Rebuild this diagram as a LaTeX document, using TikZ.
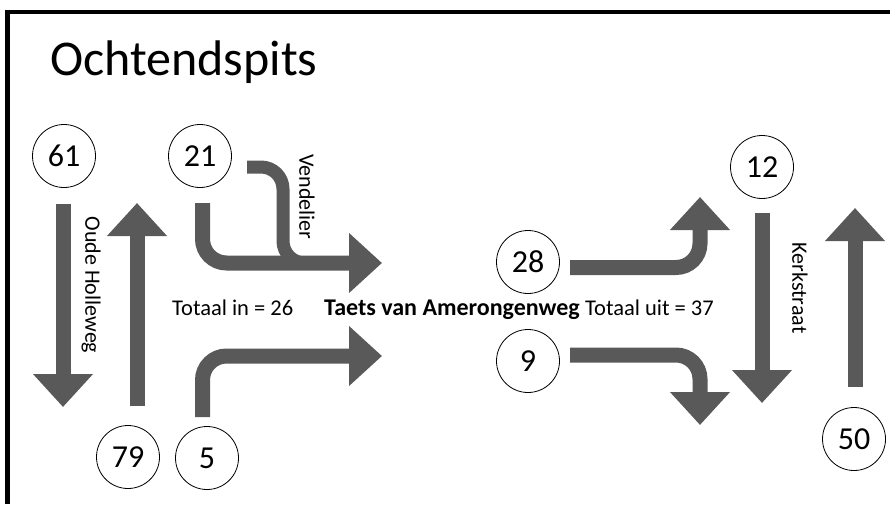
\documentclass[tikz,border=0pt]{standalone}
\usepackage{fontspec}
\setmainfont{Carlito}
\usetikzlibrary{arrows.meta,positioning}
\definecolor{flowgrey}{HTML}{595959}
\tikzset{
  count/.style={draw, circle, line width=0.8pt, fill=white, minimum size=63pt, inner sep=0pt, font=\fontsize{32}{38}\selectfont},
  flow/.style={draw=flowgrey, line width=15pt, -{Triangle[width=58pt,length=33pt]}},
  bendflow/.style={flow, rounded corners=24pt},
  feeder/.style={draw=flowgrey, line width=13pt, rounded corners=22pt},
  street/.style={rotate=-90, inner sep=0pt, font=\fontsize{22}{26}\selectfont},
  total/.style={anchor=base west, inner sep=0pt, font=\fontsize{22.5}{27}\selectfont}
}

\begin{document}
\begin{tikzpicture}[x=1pt, y=-1pt]
  \useasboundingbox (0,0) rectangle (890,504);
  \draw[line width=4.5pt] (7.5,504) |- (890,12);
  \node[anchor=base west, inner sep=0pt, font=\fontsize{50}{60}\selectfont] (title) at (50,75) {Ochtendspits};

  % tellingen
  \node[count] (n61) at (64,156) {61};
  \node[count] (n21) at (200,156) {21};
  \node[count] (n79) at (128,457) {79};
  \node[count] (n5) at (207,458) {5};
  \node[count] (n28) at (528,262) {28};
  \node[count] (n9) at (528,361) {9};
  \node[count] (n12) at (762,167) {12};
  \node[count] (n50) at (854,439) {50};

  % begin- en eindpunten van de stromen
  \coordinate (ohDownA) at (63,204);
  \coordinate (ohDownB) at (63,407);
  \coordinate (ohUpA) at (137,406);
  \coordinate (ohUpB) at (137,203);
  \coordinate (vdA) at (247,167);
  \coordinate (vdB) at (322,263);
  \coordinate (inTopA) at (202.5,203);
  \coordinate (inTopB) at (382,263);
  \coordinate (inLowA) at (202.5,417);
  \coordinate (inLowB) at (382,356);
  \coordinate (outTopA) at (570,267.5);
  \coordinate (outTopB) at (700,197);
  \coordinate (outLowA) at (570,355);
  \coordinate (outLowB) at (700,425);
  \coordinate (ksDownA) at (762,213);
  \coordinate (ksDownB) at (762,403);
  \coordinate (ksUpA) at (855,387);
  \coordinate (ksUpB) at (855,208);

  \draw[feeder] (vdA) -| (283,263) -- (vdB);
  \draw[flow] (ohDownA) -- (ohDownB);
  \draw[flow] (ohUpA) -- (ohUpB);
  \draw[bendflow] (inTopA) |- (inTopB);
  \draw[bendflow] (inLowA) |- (inLowB);
  \draw[bendflow] (outTopA) -| (outTopB);
  \draw[bendflow] (outLowA) -| (outLowB);
  \draw[flow] (ksDownA) -- (ksDownB);
  \draw[flow] (ksUpA) -- (ksUpB);

  % straatnamen en totalen
  \node[street] (oude) at (91,285) {Oude Holleweg};
  \node[street] (vendel) at (307,197) {Vendelier};
  \node[street] (kerk) at (800,288) {Kerkstraat};
  \node[total] (totin) at (172,315) {Totaal in = 26};
  \node[total, font=\fontsize{24}{28}\selectfont\bfseries] (taets) at (324,315) {Taets van Amerongenweg};
  \node[total] (totuit) at (585,315) {Totaal uit = 37};
\end{tikzpicture}
\end{document}
